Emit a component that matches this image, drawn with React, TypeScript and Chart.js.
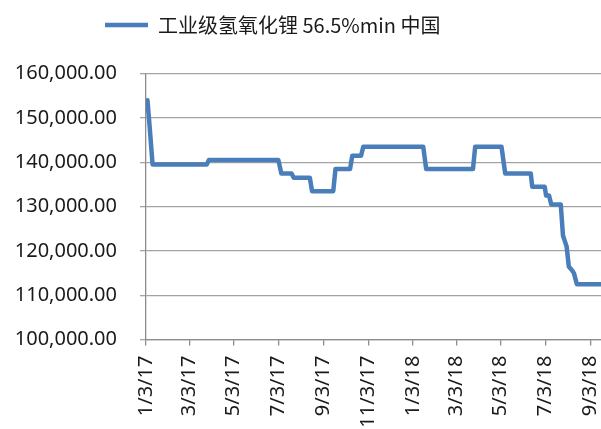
import { useEffect, useRef } from 'react';
import { Chart, registerables } from 'chart.js';

Chart.register(...registerables);

// ---- data ----
const seriesName = '工业级氢氧化锂 56.5%min 中国';

const dates = [
  '2017-01-05', '2017-01-08', '2017-01-12', '2017-03-27', '2017-03-30',
  '2017-07-03', '2017-07-07', '2017-07-21', '2017-07-24', '2017-08-15',
  '2017-08-18', '2017-09-16', '2017-09-19', '2017-10-09', '2017-10-12',
  '2017-10-24', '2017-10-27', '2018-01-17', '2018-01-21', '2018-03-26',
  '2018-03-29', '2018-05-04', '2018-05-09', '2018-06-13', '2018-06-15',
  '2018-07-02', '2018-07-04', '2018-07-08', '2018-07-11', '2018-07-24',
  '2018-07-27', '2018-07-30', '2018-08-01', '2018-08-04', '2018-08-09',
  '2018-08-11', '2018-08-15', '2018-09-17',
];

const prices = [
  154000, 148000, 139500, 139500, 140500,
  140500, 137500, 137500, 136500, 136500,
  133500, 133500, 138500, 138500, 141500,
  141500, 143500, 143500, 138500, 138500,
  143500, 143500, 137500, 137500, 134500,
  134500, 132500, 132500, 130500, 130500,
  123500, 122000, 121000, 116500, 115500,
  115000, 112500, 112500,
];

const xTickLabels = [
  '1/3/17', '3/3/17', '5/3/17', '7/3/17', '9/3/17', '11/3/17',
  '1/3/18', '3/3/18', '5/3/18', '7/3/18', '9/3/18',
];

const axisStart = '2017-01-03';
const axisEnd = '2018-09-17';
const yMin = 100000;
const yMax = 160000;
const yStep = 10000;

// ---- helpers ----
const DAY = 86400000;
const isoToUTC = (s: string) => {
  const [y, m, d] = s.split('-').map(Number);
  return Date.UTC(y, m - 1, d);
};
const base = isoToUTC(axisStart);
const isoToDay = (s: string) => (isoToUTC(s) - base) / DAY;
const mdyToDay = (s: string) => {
  const [m, d, y] = s.split('/').map(Number);
  return (Date.UTC(2000 + y, m - 1, d) - base) / DAY;
};
const tickDays = xTickLabels.map(mdyToDay);

const FONT = '"Noto Sans", "Open Sans", sans-serif';
const TEXT = '#1a1a1a';
const GRID = '#a3a3a3';
const AXIS = '#8c8c8c';
const BLUE = '#4a7ebb';

export default function App() {
  const ref = useRef<HTMLCanvasElement | null>(null);

  useEffect(() => {
    document.body.style.margin = '0';
    const canvas = ref.current;
    if (!canvas) return;

    const points = dates.map((d, i) => ({ x: isoToDay(d), y: prices[i] }));

    const chart = new Chart(canvas, {
      type: 'line',
      data: {
        datasets: [
          {
            label: seriesName,
            data: points,
            borderColor: BLUE,
            backgroundColor: BLUE,
            borderWidth: 4.5,
            borderJoinStyle: 'round',
            borderCapStyle: 'round',
            pointRadius: 0,
            pointHoverRadius: 0,
            tension: 0,
            fill: false,
          },
        ],
      },
      options: {
        animation: false,
        responsive: false,
        maintainAspectRatio: false,
        layout: { padding: { top: -90, left: 0, right: 0, bottom: 0 } },
        plugins: {
          tooltip: { enabled: false },
          legend: {
            display: true,
            position: 'top',
            align: 'start',
            labels: {
              usePointStyle: true,
              pointStyle: 'line',
              pointStyleWidth: 43,
              padding: 105,
              color: TEXT,
              font: { family: '"Noto Sans CJK SC", "Noto Sans", sans-serif', size: 20 },
            },
          },
          title: {
            display: true,
            text: '',
            position: 'top',
            weight: 500,
            padding: { top: 18.7, bottom: 0 },
            font: { size: 10, lineHeight: 1 },
          },
        },
        scales: {
          x: {
            type: 'linear',
            min: 0,
            max: isoToDay(axisEnd),
            afterBuildTicks: (scale: any) => {
              scale.ticks = tickDays.map((v) => ({ value: v }));
            },
            afterFit: (scale: any) => {
              scale.height = 89.4;
              scale.paddingLeft = 0;
              scale.paddingRight = 0;
            },
            ticks: {
              autoSkip: false,
              minRotation: 90,
              maxRotation: 90,
              padding: 10,
              color: TEXT,
              font: { family: FONT, size: 20 },
              callback: (value: any) => {
                const i = tickDays.indexOf(Number(value));
                return i >= 0 ? xTickLabels[i] : '';
              },
            },
            grid: {
              display: true,
              drawOnChartArea: false,
              drawTicks: true,
              tickLength: 6,
              color: AXIS,
              lineWidth: 1.3,
            },
            border: { display: true, color: AXIS, width: 1.3 },
          },
          y: {
            type: 'linear',
            min: yMin,
            max: yMax,
            afterFit: (scale: any) => {
              scale.width = 146;
              scale.paddingTop = 0;
              scale.paddingBottom = 0;
            },
            ticks: {
              stepSize: yStep,
              padding: 23,
              color: TEXT,
              font: { family: FONT, size: 20 },
              callback: (value: any) =>
                Number(value).toLocaleString('en-US', {
                  minimumFractionDigits: 2,
                  maximumFractionDigits: 2,
                }),
            },
            grid: {
              display: true,
              drawOnChartArea: true,
              drawTicks: true,
              tickLength: 6,
              color: GRID,
              lineWidth: 1.3,
            },
            border: { display: true, color: AXIS, width: 1.3 },
          },
        },
      },
    } as any);

    return () => chart.destroy();
  }, []);

  return (
    <div style={{ position: 'absolute', left: 0, top: 0, width: 601, height: 429, background: '#fff' }}>
      <canvas ref={ref} width={601} height={429} style={{ width: 601, height: 429, display: 'block' }} />
    </div>
  );
}
